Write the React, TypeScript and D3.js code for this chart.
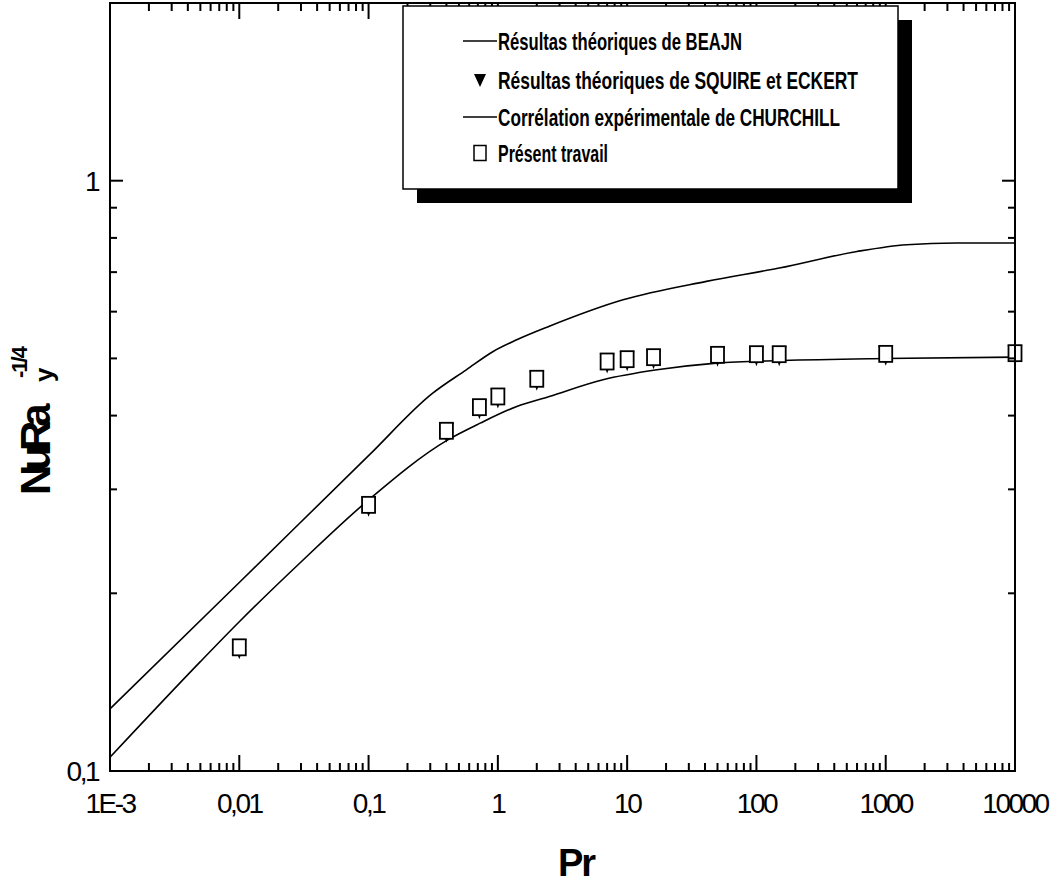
import * as d3 from 'd3'

// Pr values / NuRa_y^-1/4
const churchillPr = [0.001, 0.01, 0.1, 0.31, 0.57, 0.92, 1.4, 2.5, 9.3, 41, 150, 600, 1450, 3500, 10000]
const churchillNu = [0.1274, 0.2086, 0.3421, 0.4357, 0.4782, 0.5137, 0.5376, 0.5668, 0.6284, 0.6752, 0.7112, 0.7588, 0.7791, 0.7843, 0.7843]

const bejanPr = [0.001, 0.005, 0.01, 0.03, 0.1, 0.41, 0.73, 1.4, 2.5, 6.5, 17, 49, 160, 960, 10000]
const bejanNu = [0.1055, 0.1532, 0.179, 0.226, 0.2879, 0.3639, 0.3884, 0.4145, 0.431, 0.46, 0.4782, 0.4909, 0.4959, 0.4998, 0.5025]

const pointPr = [0.01, 0.1, 0.4, 0.72, 1, 2, 7, 10, 16, 50, 100, 150, 1000, 10000]
const squireNu = [0.162, 0.2824, 0.377, 0.4134, 0.431, 0.4618, 0.494, 0.4985, 0.5024, 0.507, 0.5083, 0.5083, 0.5089, 0.5103]
const presentNu = [0.162, 0.2824, 0.377, 0.4134, 0.431, 0.4618, 0.494, 0.4985, 0.5024, 0.507, 0.5083, 0.5083, 0.5089, 0.5103]

const xTickValues = [0.001, 0.01, 0.1, 1, 10, 100, 1000, 10000]
const xTickLabels = ['1E-3', '0,01', '0,1', '1', '10', '100', '1000', '10000']
const yTickValues = [0.1, 1]
const yTickLabels = ['0,1', '1']

const legendLabels = [
  'Résultas théoriques de BEAJN',
  'Résultas théoriques de SQUIRE et ECKERT',
  'Corrélation expérimentale de CHURCHILL',
  'Présent travail',
]

const W = 1053
const H = 884
const left = 110, right = 1015, top = 3, bottom = 771

export default function App() {
  const x = d3.scaleLog().domain([0.001, 10000]).range([left, right])
  const y = d3.scaleLog().domain([0.1, 2]).range([bottom, top])

  const xMinor: number[] = []
  xTickValues.slice(0, -1).forEach((d) => {
    for (let k = 2; k <= 9; k++) xMinor.push(d * k)
  })
  const yMinor: number[] = []
  for (let k = 2; k <= 9; k++) yMinor.push(0.1 * k)

  const line = d3
    .line<[number, number]>()
    .x((d) => x(d[0]))
    .y((d) => y(d[1]))
    .curve(d3.curveMonotoneX)

  const churchill = churchillPr.map((p, i) => [p, churchillNu[i]] as [number, number])
  const bejan = bejanPr.map((p, i) => [p, bejanNu[i]] as [number, number])

  const tickFont = { fontFamily: 'Arial, "Liberation Sans", sans-serif', fontSize: 28, letterSpacing: -2.5 }
  const legFont = { fontFamily: 'Arial, "Liberation Sans", sans-serif', fontSize: 24, fontWeight: 700 }

  const tri = (cx: number, cy: number, w: number, t: number, b: number) =>
    `M${cx - w / 2},${cy - t}L${cx + w / 2},${cy - t}L${cx},${cy + b}Z`

  const legendRows = [41, 80, 117, 153]
  const legendWidths = [244, 360, 342, 110]

  return (
    <svg width={W} height={H} style={{ position: 'absolute', left: 0, top: 0, background: '#fff' }}>
      {/* curves */}
      <path d={line(churchill) ?? ''} fill="none" stroke="#000" strokeWidth={1.6} />
      <path d={line(bejan) ?? ''} fill="none" stroke="#000" strokeWidth={1.6} />

      {/* Squire & Eckert triangles, under the squares */}
      {pointPr.map((p, i) => (
        <path key={'t' + i} d={tri(x(p), y(squireNu[i]), 15, 8, 12)} fill="#000" />
      ))}
      {pointPr.map((p, i) => (
        <rect key={'s' + i} x={x(p) - 6.5} y={y(presentNu[i]) - 8} width={13} height={16}
          fill="#fff" stroke="#000" strokeWidth={1.8} />
      ))}

      {/* frame */}
      <rect x={left} y={top} width={right - left} height={bottom - top} fill="none" stroke="#000" strokeWidth={2} />

      {/* x ticks, bottom + top */}
      {xTickValues.map((v) => (
        <g key={'xm' + v}>
          <line x1={x(v)} x2={x(v)} y1={bottom} y2={bottom - 16} stroke="#000" strokeWidth={2} />
          <line x1={x(v)} x2={x(v)} y1={top} y2={top + 16} stroke="#000" strokeWidth={2} />
        </g>
      ))}
      {xMinor.map((v) => (
        <g key={'xn' + v}>
          <line x1={x(v)} x2={x(v)} y1={bottom} y2={bottom - 8} stroke="#000" strokeWidth={2} />
          <line x1={x(v)} x2={x(v)} y1={top} y2={top + 8} stroke="#000" strokeWidth={2} />
        </g>
      ))}
      {xTickValues.map((v, i) => (
        <text key={'xl' + v} x={x(v)} y={813} textAnchor="middle" style={tickFont}>{xTickLabels[i]}</text>
      ))}

      {/* y ticks, left + right */}
      {yTickValues.map((v) => (
        <g key={'ym' + v}>
          <line x1={left} x2={left + 13} y1={y(v)} y2={y(v)} stroke="#000" strokeWidth={2} />
          <line x1={right} x2={right - 13} y1={y(v)} y2={y(v)} stroke="#000" strokeWidth={2} />
        </g>
      ))}
      {yMinor.map((v) => (
        <g key={'yn' + v}>
          <line x1={left} x2={left + 7} y1={y(v)} y2={y(v)} stroke="#000" strokeWidth={2} />
          <line x1={right} x2={right - 7} y1={y(v)} y2={y(v)} stroke="#000" strokeWidth={2} />
        </g>
      ))}
      {yTickValues.map((v, i) => (
        <text key={'yl' + v} x={98} y={y(v) + 10} textAnchor="end" style={tickFont}>{yTickLabels[i]}</text>
      ))}

      {/* axis titles */}
      <text x={576} y={876} textAnchor="middle"
        style={{ fontFamily: 'Arial, "Liberation Sans", sans-serif', fontSize: 38, fontWeight: 700, letterSpacing: -2 }}>Pr</text>
      <g style={{ fontFamily: 'Arial, "Liberation Sans", sans-serif', fontWeight: 700 }}>
        <text transform="translate(50,495) rotate(-90)" style={{ fontSize: 42, letterSpacing: -6 }}>NuRa</text>
        <text transform="translate(53,382) rotate(-90)" style={{ fontSize: 26 }}>y</text>
        <text transform="translate(27,378) rotate(-90)" style={{ fontSize: 22, letterSpacing: -2 }}>-1/4</text>
      </g>

      {/* legend */}
      <rect x={417} y={20} width={495} height={183} fill="#000" />
      <rect x={403} y={6} width={495} height={183} fill="#fff" stroke="#000" strokeWidth={1.5} />
      <line x1={463} x2={497} y1={legendRows[0]} y2={legendRows[0]} stroke="#000" strokeWidth={1.6} />
      <path d={tri(480, legendRows[1], 12, 6, 7)} fill="#000" />
      <line x1={463} x2={497} y1={legendRows[2]} y2={legendRows[2]} stroke="#000" strokeWidth={1.6} />
      <rect x={474} y={legendRows[3] - 7.5} width={12} height={15} fill="#fff" stroke="#000" strokeWidth={1.5} />
      {legendLabels.map((t, i) => (
        <text key={t} x={498} y={legendRows[i] + 9} textLength={legendWidths[i]} lengthAdjust="spacingAndGlyphs"
          style={legFont}>{t}</text>
      ))}
    </svg>
  )
}
